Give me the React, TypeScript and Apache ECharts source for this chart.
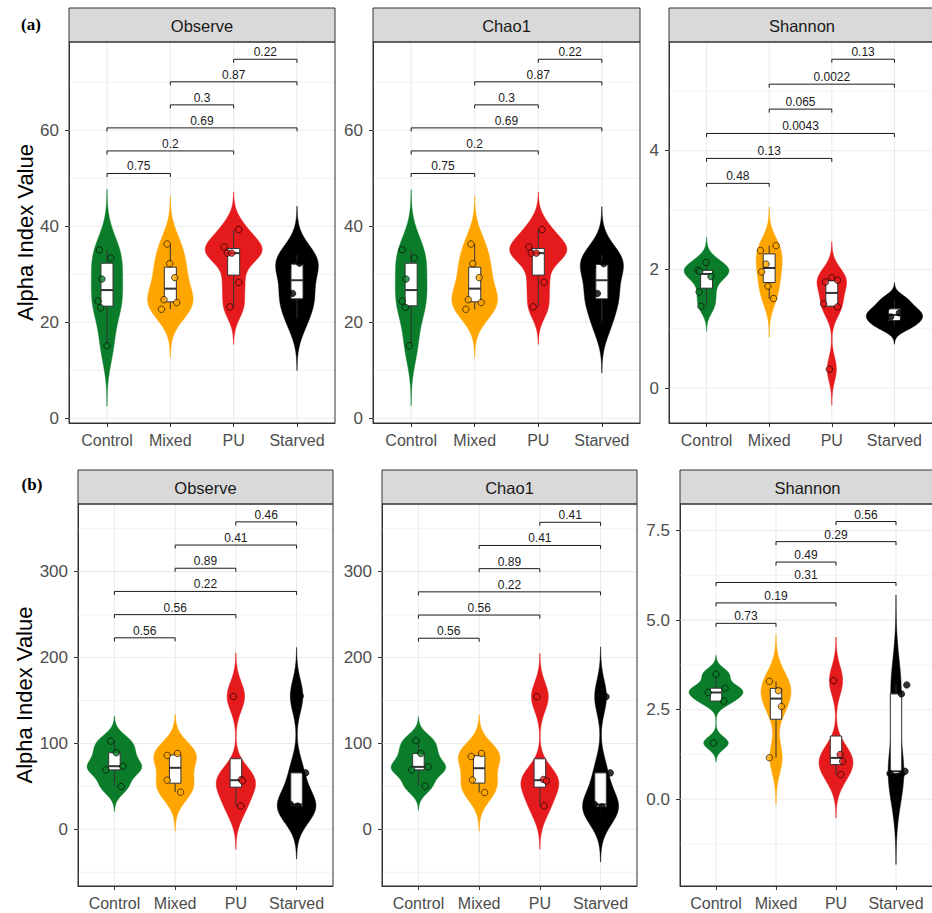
import React, { useEffect, useRef } from "react";
import * as echarts from "echarts";

const FONT = "'Liberation Sans', Arial, sans-serif";

// ---- shared categories / styling keys ----
const groups = ["Control", "Mixed", "PU", "Starved"];
const groupColors = ["#0b7d2a", "#ffa500", "#e41a1c", "#000000"];
const comparisons: [number, number][] = [
  [1, 2],
  [1, 3],
  [1, 4],
  [2, 3],
  [2, 4],
  [3, 4],
];

// ---- (a) Observe ----
const aObserveValues = [
  [35.1, 33.4, 29.0, 24.4, 23.0, 15.1],
  [36.3, 32.2, 29.3, 24.7, 24.1, 22.7],
  [39.3, 35.7, 34.4, 34.4, 28.3, 23.2],
  [34.0, 32.3, 31.5, 26.0, 24.5, 20.1],
];
const aObserveJitter = [
  [-0.12, 0.06, -0.08, -0.14, -0.1, 0.0],
  [-0.05, -0.01, 0.07, -0.1, 0.1, -0.14],
  [0.08, -0.15, -0.1, -0.03, 0.08, -0.06],
  [0.12, 0.04, -0.15, -0.07, 0.14, 0.0],
];
const aObservePValues = ["0.75", "0.2", "0.69", "0.3", "0.87", "0.22"];
const aObserveBracketY = [51.0, 55.7, 60.5, 65.3, 70.1, 74.8];

// ---- (a) Chao1 ----
const aChao1Values = [
  [35.1, 33.4, 29.0, 24.4, 23.1, 15.1],
  [36.3, 32.2, 29.3, 24.7, 24.1, 22.7],
  [39.3, 35.7, 34.4, 34.4, 28.3, 23.2],
  [34.0, 32.2, 31.5, 26.0, 24.5, 19.5],
];
const aChao1Jitter = [
  [-0.14, 0.05, -0.08, -0.14, -0.09, -0.03],
  [-0.06, -0.03, 0.07, -0.1, 0.1, -0.14],
  [0.06, -0.15, -0.11, -0.03, 0.09, -0.08],
  [0.12, 0.03, -0.15, -0.07, 0.14, 0.0],
];
const aChao1PValues = ["0.75", "0.2", "0.69", "0.3", "0.87", "0.22"];
const aChao1BracketY = [51.0, 55.7, 60.5, 65.3, 70.1, 74.8];

// ---- (a) Shannon ----
const aShannonValues = [
  [2.12, 1.99, 1.97, 1.88, 1.62, 1.38],
  [2.4, 2.32, 2.09, 1.96, 1.72, 1.51],
  [1.86, 1.82, 1.79, 1.42, 1.37, 0.32],
  [1.5, 1.36, 1.27, 1.2, 1.12, 1.02],
];
const aShannonJitter = [
  [-0.01, -0.14, -0.11, 0.07, -0.12, -0.09],
  [0.11, -0.14, -0.05, -0.12, -0.02, 0.07],
  [0.0, 0.09, -0.1, -0.13, 0.09, -0.04],
  [0.05, -0.12, 0.08, -0.06, 0.13, -0.02],
];
const aShannonPValues = ["0.48", "0.13", "0.0043", "0.065", "0.0022", "0.13"];
const aShannonBracketY = [3.45, 3.87, 4.29, 4.7, 5.12, 5.54];

// ---- (b) Observe ----
const bObserveValues = [
  [102.7, 89.1, 73.5, 69.2, 49.8],
  [88.3, 86.0, 57.2, 43.2],
  [154.8, 58.0, 56.4, 27.2],
  [155.2, 65.7, 29.0, 27.0, 22.0],
];
const bObserveJitter = [
  [-0.06, 0.03, 0.14, -0.14, 0.11],
  [0.04, -0.13, -0.13, 0.09],
  [-0.04, 0.09, 0.11, 0.08],
  [0.06, 0.15, -0.1, 0.02, -0.05],
];
const bObservePValues = ["0.56", "0.56", "0.22", "0.89", "0.41", "0.46"];
const bObserveBracketY = [223, 250, 277, 304, 331, 358];

// ---- (b) Chao1 ----
const bChao1Values = [
  [103.1, 88.3, 72.7, 69.2, 50.2],
  [88.3, 84.8, 57.5, 42.8],
  [154.4, 58.0, 56.4, 27.2],
  [154.4, 65.7, 29.0, 26.0, 20.0],
];
const bChao1Jitter = [
  [-0.04, 0.04, 0.16, -0.11, 0.11],
  [0.04, -0.13, -0.11, 0.09],
  [-0.05, 0.06, 0.11, 0.07],
  [0.09, 0.16, -0.1, 0.02, -0.05],
];
const bChao1PValues = ["0.56", "0.56", "0.22", "0.89", "0.41", "0.41"];
const bChao1BracketY = [222.5, 249.5, 276.5, 303.5, 330.5, 357.5];

// ---- (b) Shannon ----
const bShannonValues = [
  [3.49, 3.1, 2.98, 2.74, 1.57],
  [3.29, 3.03, 2.59, 1.16],
  [3.31, 1.25, 1.06, 0.69],
  [3.19, 2.94, 0.78, 0.72, 0.69],
];
const bShannonJitter = [
  [0.0, 0.15, -0.13, 0.13, -0.04],
  [-0.11, 0.04, 0.09, -0.11],
  [-0.04, 0.07, 0.11, 0.08],
  [0.18, 0.09, 0.15, -0.1, 0.09],
];
const bShannonPValues = ["0.73", "0.19", "0.31", "0.49", "0.29", "0.56"];
const bShannonBracketY = [4.91, 5.48, 6.05, 6.62, 7.19, 7.75];

// ---- y-axis ticks ----
const countTicksA = [0, 20, 40, 60];
const countMinorA = [10, 30, 50, 70];
const shannonTicksA = [0, 2, 4];
const shannonMinorA = [1, 3, 5];
const countTicksB = [0, 100, 200, 300];
const countMinorB = [-50, 50, 150, 250, 350];
const shannonTicksB = [0, 2.5, 5, 7.5];
const shannonMinorB = [-1.25, 1.25, 3.75, 6.25];

// ---- statistics (ggplot-like) ----
function quantile7(sorted: number[], p: number) {
  const h = (sorted.length - 1) * p;
  const lo = Math.floor(h);
  const hi = Math.ceil(h);
  return sorted[lo] + (h - lo) * (sorted[hi] - sorted[lo]);
}

function bwNrd0(x: number[]) {
  const n = x.length;
  const s = [...x].sort((a, b) => a - b);
  const mean = x.reduce((a, b) => a + b, 0) / n;
  const sd = Math.sqrt(x.reduce((a, b) => a + (b - mean) ** 2, 0) / (n - 1));
  const iqr = quantile7(s, 0.75) - quantile7(s, 0.25);
  let lo = Math.min(sd, iqr / 1.34);
  if (!(lo > 0)) lo = sd || Math.abs(s[0]) || 1;
  return 0.9 * lo * Math.pow(n, -0.2);
}

function kde(x: number[]) {
  const bw = bwNrd0(x);
  const from = Math.min(...x) - 3 * bw;
  const to = Math.max(...x) + 3 * bw;
  const N = 512;
  const ys: number[] = [];
  const d: number[] = [];
  const norm = 1 / (x.length * bw * Math.sqrt(2 * Math.PI));
  for (let k = 0; k < N; k++) {
    const y = from + ((to - from) * k) / (N - 1);
    let s = 0;
    for (const xi of x) {
      const u = (y - xi) / bw;
      s += Math.exp(-0.5 * u * u);
    }
    ys.push(y);
    d.push(s * norm);
  }
  return { ys, d };
}

function boxStats(x: number[]) {
  const s = [...x].sort((a, b) => a - b);
  const q1 = quantile7(s, 0.25);
  const med = quantile7(s, 0.5);
  const q3 = quantile7(s, 0.75);
  const iqr = q3 - q1;
  const lw = Math.min(...s.filter((v) => v >= q1 - 1.5 * iqr));
  const uw = Math.max(...s.filter((v) => v <= q3 + 1.5 * iqr));
  return { q1, med, q3, lw, uw };
}

// ---- panels ----
type Panel = {
  title: string;
  values: number[][];
  jitter: number[][];
  pvals: string[];
  bracketY: number[];
  ticks: number[];
  minor: number[];
  tickFmt: (v: number) => string;
  yMin: number;
  yMax: number;
  left: number;
  top: number;
  width: number;
  height: number;
  yTitleGap: number | null;
};

const intFmt = (v: number) => String(Math.round(v));
const oneDec = (v: number) => v.toFixed(1);

const panels: Panel[] = [
  { title: "Observe", values: aObserveValues, jitter: aObserveJitter, pvals: aObservePValues, bracketY: aObserveBracketY, ticks: countTicksA, minor: countMinorA, tickFmt: intFmt, yMin: -1, yMax: 78.4, left: 69, top: 42, width: 266, height: 381, yTitleGap: 33 },
  { title: "Chao1", values: aChao1Values, jitter: aChao1Jitter, pvals: aChao1PValues, bracketY: aChao1BracketY, ticks: countTicksA, minor: countMinorA, tickFmt: intFmt, yMin: -1, yMax: 78.4, left: 373, top: 42, width: 267, height: 381, yTitleGap: null },
  { title: "Shannon", values: aShannonValues, jitter: aShannonJitter, pvals: aShannonPValues, bracketY: aShannonBracketY, ticks: shannonTicksA, minor: shannonMinorA, tickFmt: intFmt, yMin: -0.585, yMax: 5.83, left: 669, top: 42, width: 266, height: 381, yTitleGap: null },
  { title: "Observe", values: bObserveValues, jitter: bObserveJitter, pvals: bObservePValues, bracketY: bObserveBracketY, ticks: countTicksB, minor: countMinorB, tickFmt: intFmt, yMin: -66, yMax: 378.8, left: 78, top: 504, width: 255, height: 382, yTitleGap: 42 },
  { title: "Chao1", values: bChao1Values, jitter: bChao1Jitter, pvals: bChao1PValues, bracketY: bChao1BracketY, ticks: countTicksB, minor: countMinorB, tickFmt: intFmt, yMin: -66, yMax: 378.8, left: 382, top: 504, width: 255, height: 382, yTitleGap: null },
  { title: "Shannon", values: bShannonValues, jitter: bShannonJitter, pvals: bShannonPValues, bracketY: bShannonBracketY, ticks: shannonTicksB, minor: shannonMinorB, tickFmt: oneDec, yMin: -2.42, yMax: 8.24, left: 680, top: 504, width: 255, height: 382, yTitleGap: null },
];

const X_MIN = 0.4;
const X_MAX = 4.6;
const VIOLIN_HALF = 0.45;
const BOX_HALF = 0.095;
const TIP = 3.5;
const STRIP_H = 34;

function buildOption() {
  const grid: any[] = [];
  const xAxis: any[] = [];
  const yAxis: any[] = [];
  const series: any[] = [];
  const graphic: any[] = [];
  const catValues = [1, 2, 3, 4];

  panels.forEach((p, i) => {
    grid.push({ left: p.left, top: p.top, width: p.width, height: p.height, show: false });

    xAxis.push({
      gridIndex: i,
      type: "value",
      min: X_MIN,
      max: X_MAX,
      axisLine: { show: true, onZero: false, lineStyle: { color: "#333333", width: 1 } },
      axisTick: { show: true, length: 4, customValues: catValues, lineStyle: { color: "#333333", width: 1 } },
      axisLabel: {
        show: true,
        customValues: catValues,
        formatter: (v: number) => groups[Math.round(v) - 1] ?? "",
        color: "#4d4d4d",
        fontSize: 16,
        fontFamily: FONT,
        margin: 9,
      },
      splitLine: { show: false },
    });

    yAxis.push({
      gridIndex: i,
      type: "value",
      min: p.yMin,
      max: p.yMax,
      axisLine: { show: true, onZero: false, lineStyle: { color: "#333333", width: 1 } },
      axisTick: { show: true, length: 4, customValues: p.ticks, lineStyle: { color: "#333333", width: 1 } },
      axisLabel: {
        show: true,
        customValues: p.ticks,
        formatter: (v: number) => p.tickFmt(v),
        color: "#4d4d4d",
        fontSize: 17,
        fontFamily: FONT,
        margin: 10,
      },
      splitLine: { show: false },
      name: p.yTitleGap != null ? "Alpha Index Value" : "",
      nameLocation: "middle",
      nameGap: p.yTitleGap ?? 0,
      nameTextStyle: { fontSize: 22, color: "#000000", fontFamily: FONT },
    });

    // background grid lines: 0 = major horizontal, 1 = minor horizontal, 2 = vertical at categories
    const gridData = [
      ...p.ticks.map((v) => [0, v]),
      ...p.minor.filter((v) => v > p.yMin && v < p.yMax).map((v) => [1, v]),
      ...catValues.map((c) => [2, c]),
    ];
    series.push({
      type: "custom",
      xAxisIndex: i,
      yAxisIndex: i,
      z: 1,
      silent: true,
      data: gridData,
      renderItem: (_params: any, api: any) => {
        const kind = api.value(0);
        const v = api.value(1);
        let a, b;
        if (kind === 2) {
          a = api.coord([v, p.yMin]);
          b = api.coord([v, p.yMax]);
        } else {
          a = api.coord([X_MIN, v]);
          b = api.coord([X_MAX, v]);
        }
        return {
          type: "line",
          shape: { x1: a[0], y1: a[1], x2: b[0], y2: b[1] },
          style: { stroke: "#ebebeb", lineWidth: kind === 1 ? 0.6 : 1.1 },
        };
      },
    });

    // violins: gaussian KDE per group, widths scaled by the panel's peak density
    const dens = p.values.map((vals) => kde(vals));
    const peak = Math.max(...dens.map((k) => Math.max(...k.d)));
    series.push({
      type: "custom",
      xAxisIndex: i,
      yAxisIndex: i,
      z: 2,
      silent: true,
      data: groups.map((_g, gi) => [gi + 1, gi]),
      renderItem: (_params: any, api: any) => {
        const cx = api.value(0);
        const gi = api.value(1);
        const k = dens[gi];
        const right = k.ys.map((y, j) => api.coord([cx + (VIOLIN_HALF * k.d[j]) / peak, y]));
        const left = k.ys.map((y, j) => api.coord([cx - (VIOLIN_HALF * k.d[j]) / peak, y])).reverse();
        return {
          type: "polygon",
          shape: { points: right.concat(left) },
          style: { fill: groupColors[gi], stroke: groupColors[gi], lineWidth: 0.5 },
        };
      },
    });

    // box plots
    const stats = p.values.map((vals) => boxStats(vals));
    series.push({
      type: "custom",
      xAxisIndex: i,
      yAxisIndex: i,
      z: 3,
      silent: true,
      data: stats.map((s, gi) => [gi + 1, s.lw, s.q1, s.med, s.q3, s.uw]),
      renderItem: (_params: any, api: any) => {
        const cx = api.value(0);
        const lw = api.value(1);
        const q1 = api.value(2);
        const med = api.value(3);
        const q3 = api.value(4);
        const uw = api.value(5);
        const pLw = api.coord([cx, lw]);
        const pQ1 = api.coord([cx, q1]);
        const pQ3 = api.coord([cx, q3]);
        const pUw = api.coord([cx, uw]);
        const tl = api.coord([cx - BOX_HALF, q3]);
        const br = api.coord([cx + BOX_HALF, q1]);
        const m1 = api.coord([cx - BOX_HALF, med]);
        const m2 = api.coord([cx + BOX_HALF, med]);
        return {
          type: "group",
          children: [
            { type: "line", shape: { x1: pQ1[0], y1: pQ1[1], x2: pLw[0], y2: pLw[1] }, style: { stroke: "#333333", lineWidth: 1 } },
            { type: "line", shape: { x1: pQ3[0], y1: pQ3[1], x2: pUw[0], y2: pUw[1] }, style: { stroke: "#333333", lineWidth: 1 } },
            {
              type: "rect",
              shape: { x: tl[0], y: tl[1], width: br[0] - tl[0], height: br[1] - tl[1] },
              style: { fill: "#ffffff", stroke: "#333333", lineWidth: 1 },
            },
            { type: "line", shape: { x1: m1[0], y1: m1[1], x2: m2[0], y2: m2[1] }, style: { stroke: "#333333", lineWidth: 2 } },
          ],
        };
      },
    });

    // jittered sample points
    series.push({
      type: "scatter",
      xAxisIndex: i,
      yAxisIndex: i,
      z: 4,
      silent: true,
      symbol: "circle",
      symbolSize: 6.5,
      data: p.values.flatMap((vals, gi) =>
        vals.map((v, j) => ({
          value: [gi + 1 + p.jitter[gi][j], v],
          itemStyle: { color: groupColors[gi], borderColor: "#000000", borderWidth: 0.8 },
        }))
      ),
    });

    // pairwise comparison brackets with p-values
    series.push({
      type: "custom",
      xAxisIndex: i,
      yAxisIndex: i,
      z: 5,
      silent: true,
      data: comparisons.map(([a, b], k) => [a, b, p.bracketY[k], k]),
      renderItem: (_params: any, api: any) => {
        const y = api.value(2);
        const a = api.coord([api.value(0), y]);
        const b = api.coord([api.value(1), y]);
        const k = api.value(3);
        return {
          type: "group",
          children: [
            {
              type: "polyline",
              shape: { points: [[a[0], a[1] + TIP], [a[0], a[1]], [b[0], b[1]], [b[0], b[1] + TIP]] },
              style: { stroke: "#1a1a1a", lineWidth: 1, fill: "none" },
            },
            {
              type: "text",
              style: {
                text: p.pvals[k],
                x: (a[0] + b[0]) / 2,
                y: a[1] - 7,
                fill: "#1a1a1a",
                fontSize: 12,
                fontFamily: FONT,
                align: "center",
                verticalAlign: "middle",
                textAlign: "center",
                textVerticalAlign: "middle",
              },
            },
          ],
        };
      },
    });

    // facet strip and panel border
    graphic.push({
      type: "rect",
      z: 10,
      shape: { x: p.left, y: p.top - STRIP_H, width: p.width, height: STRIP_H },
      style: { fill: "#d9d9d9", stroke: "#333333", lineWidth: 1 },
    });
    graphic.push({
      type: "text",
      z: 11,
      x: p.left + p.width / 2,
      y: p.top - STRIP_H / 2 + 1,
      style: {
        text: p.title,
        fill: "#1a1a1a",
        fontSize: 16.5,
        fontFamily: FONT,
        textAlign: "center",
        textVerticalAlign: "middle",
        align: "center",
        verticalAlign: "middle",
      },
    });
    graphic.push({
      type: "rect",
      z: 10,
      shape: { x: p.left, y: p.top, width: p.width, height: p.height },
      style: { fill: "none", stroke: "#333333", lineWidth: 1 },
    });
  });

  const tag = (text: string, x: number, y: number) => ({
    type: "text",
    z: 11,
    x,
    y,
    style: {
      text,
      fill: "#000000",
      fontSize: 17,
      fontWeight: "bold",
      fontFamily: "'Liberation Serif', 'DejaVu Serif', serif",
      textAlign: "center",
      textVerticalAlign: "middle",
      align: "center",
      verticalAlign: "middle",
    },
  });
  graphic.push(tag("(a)", 31, 24));
  graphic.push(tag("(b)", 32, 484));

  return {
    animation: false,
    backgroundColor: "#ffffff",
    grid,
    xAxis,
    yAxis,
    series,
    graphic: { elements: graphic },
  };
}

export default function App() {
  const ref = useRef<HTMLDivElement>(null);
  useEffect(() => {
    if (!ref.current) return;
    const chart = echarts.init(ref.current, null, { renderer: "svg" });
    chart.setOption(buildOption() as any);
    return () => chart.dispose();
  }, []);
  return (
    <div
      ref={ref}
      style={{ position: "fixed", left: 0, top: 0, width: 932, height: 913, background: "#ffffff" }}
    />
  );
}
